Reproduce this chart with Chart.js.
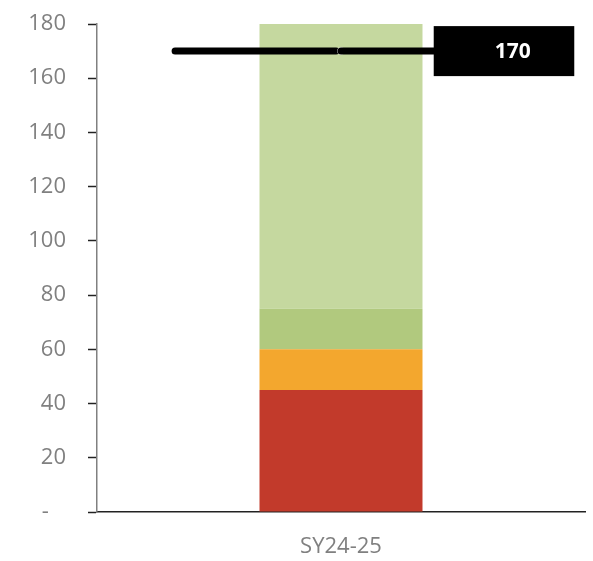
<!DOCTYPE html>
<html><head><meta charset="utf-8">
<script src="https://cdn.jsdelivr.net/npm/chart.js@4/dist/chart.umd.min.js"></script>
<style>html,body{margin:0;padding:0;background:#fff}#w{width:593px;height:561px}</style>
</head><body><div id="w"><canvas id="c"></canvas></div>
<script>
const categories = ["SY24-25"];
const redValues = [45];
const orangeValues = [15];
const midGreenValues = [15];
const lightGreenValues = [105];
const targetValues = [170];
const yTickValues = [0,20,40,60,80,100,120,140,160,180];

function targetStroke(ctx, xa, xb, y) {
  ctx.save();
  ctx.strokeStyle = '#000';
  ctx.lineWidth = 7;
  ctx.lineCap = 'round';
  ctx.beginPath();
  ctx.moveTo(xa, y);
  ctx.lineTo(xb, y);
  ctx.stroke();
  ctx.restore();
}

const targetPlugin = {
  id: 'target',
  beforeDatasetDraw(chart, args) {
    if (args.index !== 0) return;
    const meta = chart.getDatasetMeta(0);
    const xs = chart.scales.x;
    const catW = (xs.right - xs.left) / categories.length;
    meta.data.forEach(pt => {
      targetStroke(chart.ctx, pt.x - catW * 0.34, pt.x - catW * 0.01, pt.y);
    });
  },
  afterDatasetsDraw(chart) {
    const meta = chart.getDatasetMeta(0);
    const xs = chart.scales.x;
    const catW = (xs.right - xs.left) / categories.length;
    const ctx = chart.ctx;
    meta.data.forEach((pt, i) => {
      targetStroke(ctx, pt.x + catW * 0.0, pt.x + catW * 0.34, pt.y);
      const x0 = pt.x + catW * 0.19;
      const x1 = pt.x + catW * 0.478;
      ctx.save();
      ctx.fillStyle = '#000';
      ctx.fillRect(x0, pt.y - 25, x1 - x0, 50);
      ctx.fillStyle = '#fff';
      ctx.font = 'bold 21px "Open Sans"';
      ctx.textAlign = 'center';
      ctx.textBaseline = 'middle';
      ctx.fillText(String(targetValues[i]), pt.x + catW * 0.352, pt.y + 1);
      ctx.restore();
    });
  }
};

new Chart(document.getElementById('c'), {
  data: {
    labels: categories,
    datasets: [
      { type: 'line', label: 'Target', data: targetValues, stack: 'target',
        showLine: false, pointRadius: 3, pointBorderWidth: 1.5,
        pointBorderColor: '#ffffff', pointBackgroundColor: '#000000' },
      { type: 'bar', label: 'A', data: redValues, backgroundColor: '#C23A2B', stack: 's' },
      { type: 'bar', label: 'B', data: orangeValues, backgroundColor: '#F3A72E', stack: 's' },
      { type: 'bar', label: 'C', data: midGreenValues, backgroundColor: '#B1C97E', stack: 's' },
      { type: 'bar', label: 'D', data: lightGreenValues, backgroundColor: '#C5D89F', stack: 's' }
    ]
  },
  options: {
    responsive: true, maintainAspectRatio: false, animation: false,
    layout: { padding: { top: 24, right: 8, left: 0, bottom: 0 } },
    plugins: { legend: { display: false }, tooltip: { enabled: false } },
    datasets: { bar: { barPercentage: 0.334, categoryPercentage: 1 } },
    scales: {
      x: {
        stacked: true,
        grid: { display: false, drawTicks: false },
        border: { display: true, color: '#222', width: 1.5 },
        ticks: { color: '#808080', font: { family: '"Open Sans"', size: 22 }, padding: 22 },
        afterFit(s) { s.height = 49; s.paddingLeft = 0; s.paddingRight = 0; }
      },
      y: {
        stacked: true, min: 0, max: 180,
        afterBuildTicks(s) { s.ticks = yTickValues.map(v => ({ value: v })); },
        grid: { drawOnChartArea: false, drawTicks: true, tickLength: 9, tickColor: '#222', tickWidth: 1.5 },
        border: { display: true, color: '#808080', width: 1.5 },
        ticks: { color: '#808080', font: { family: '"Open Sans"', size: 22 }, padding: 22,
          callback: v => v === 0 ? '-   ' : String(v) },
        afterFit(s) { s.width = 97; s.paddingTop = 0; s.paddingBottom = 0; }
      }
    }
  },
  plugins: [targetPlugin]
});
</script>
</body></html>
